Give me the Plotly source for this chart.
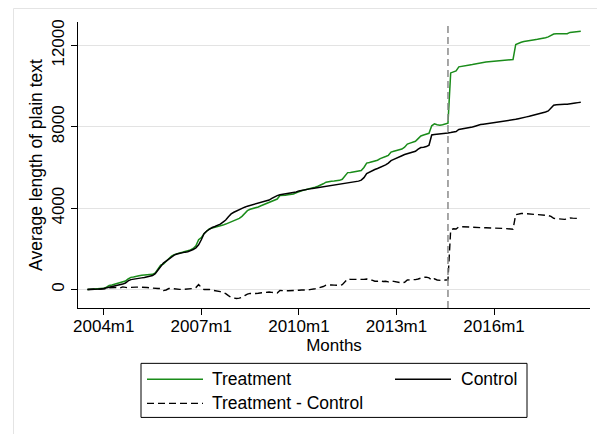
import plotly.graph_objects as go

# Months measured from 2004m1 (= 0); data run 2003m7 .. 2018m9
months = list(range(-6, 177))

treatment = [
    0, 5, 10, 20, 30, 40, 60,                                   # -6..0
    120, 200, 220, 260, 300, 330, 400, 420, 520, 600,           # 1..10
    620, 660, 680, 700, 710, 720, 730, 750, 820, 1000,          # 11..20
    1200, 1250, 1380, 1550, 1650, 1720, 1770, 1800, 1830, 1860, # 21..30
    1900, 1950, 2020, 2150, 2450, 2550, 2750, 2880, 2990, 3020, # 31..40
    3050, 3080, 3120, 3170, 3220, 3280, 3330, 3380, 3430, 3500, # 41..50
    3600, 3750, 3880, 3950, 3980, 4020, 4060, 4120, 4180, 4240, # 51..60
    4280, 4340, 4400, 4450, 4620, 4620, 4640, 4660, 4680, 4700, # 61..70
    4760, 4820, 4860, 4890, 4920, 4950, 4980, 5030, 5080, 5130, # 71..80
    5200, 5280, 5320, 5330, 5340, 5350, 5370, 5420, 5600, 5750, # 81..90
    5760, 5780, 5800, 5820, 5850, 6000, 6220, 6250, 6280, 6310, # 91..100
    6360, 6440, 6480, 6540, 6600, 6760, 6800, 6830, 6870, 6910, # 101..110
    7000, 7150, 7200, 7230, 7290, 7420, 7550, 7600, 7640, 7680, # 111..120
    8050, 8150, 8100, 8080, 8100, 8150, 8180, 10650, 10720, 10750, # 121..130
    10950, 10980, 11000, 11020, 11040, 11060, 11090, 11120, 11150, 11170, # 131..140
    11190, 11200, 11210, 11220, 11230, 11240, 11250, 11270, 11280, 11300, # 141..150
    11310, 12050, 12120, 12160, 12190, 12220, 12240, 12260, 12280, 12300, # 151..160
    12320, 12350, 12380, 12420, 12500, 12560, 12570, 12570, 12570, 12560, # 161..170
    12580, 12640, 12660, 12690, 12690, 12700,                   # 171..176
]

control = [
    0, 0, 5, 10, 20, 30, 50,                                    # -6..0
    80, 110, 140, 160, 200, 250, 270, 320, 430, 490,            # 1..10
    520, 540, 560, 575, 590, 620, 650, 690, 780, 950,           # 11..20
    1150, 1300, 1400, 1500, 1600, 1690, 1750, 1790, 1820, 1840, # 21..30
    1860, 1900, 1970, 2050, 2200, 2450, 2750, 2880, 2980, 3050, # 31..40
    3100, 3150, 3220, 3320, 3420, 3580, 3720, 3800, 3870, 3920, # 41..50
    3980, 4050, 4100, 4140, 4180, 4210, 4240, 4280, 4320, 4360, # 51..60
    4400, 4480, 4560, 4620, 4660, 4680, 4700, 4720, 4740, 4760, # 61..70
    4800, 4850, 4880, 4920, 4940, 4950, 4970, 4990, 5010, 5030, # 71..80
    5050, 5060, 5080, 5100, 5120, 5140, 5160, 5180, 5210, 5230, # 81..90
    5260, 5280, 5300, 5330, 5380, 5500, 5700, 5780, 5820, 5900, # 91..100
    5950, 6000, 6080, 6130, 6220, 6340, 6400, 6450, 6520, 6580, # 101..110
    6640, 6680, 6720, 6760, 6800, 6900, 6980, 7000, 7030, 7100, # 111..120
    7600, 7620, 7630, 7640, 7660, 7680, 7700, 7720, 7730, 7770, # 121..130
    7870, 7890, 7920, 7940, 7960, 7990, 8030, 8080, 8110, 8130, # 131..140
    8150, 8160, 8170, 8180, 8200, 8220, 8240, 8270, 8290, 8310, # 141..150
    8340, 8370, 8400, 8420, 8450, 8490, 8520, 8550, 8590, 8630, # 151..160
    8670, 8700, 8730, 8780, 8900, 9060, 9080, 9100, 9110, 9110, # 161..170
    9110, 9120, 9150, 9170, 9190, 9210,                         # 171..176
]

difference = [t - c for t, c in zip(treatment, control)]

tick_vals = [0, 36, 72, 108, 144]
tick_labels = ["2004m1", "2007m1", "2010m1", "2013m1", "2016m1"]
y_tick_vals = [0, 4000, 8000, 12000]
y_tick_labels = ["0", "4000", "8000", "12000"]
event_month = 127  # 2014m8

legend_labels = ["Treatment", "Control", "Treatment - Control"]

FONT = "Liberation Sans, Arial, Helvetica, sans-serif"
GREEN = "#1a8c1a"

fig = go.Figure()
fig.add_trace(go.Scatter(x=months, y=treatment, mode="lines", name=legend_labels[0],
                         line=dict(color=GREEN, width=1.5), showlegend=False))
fig.add_trace(go.Scatter(x=months, y=control, mode="lines", name=legend_labels[1],
                         line=dict(color="black", width=1.5), showlegend=False))
fig.add_trace(go.Scatter(x=months, y=difference, mode="lines", name=legend_labels[2],
                         line=dict(color="black", width=1.4, dash="7px,4px"), showlegend=False))

# page body has an 8px margin; figure sized to fit the window
OFF = 8
W, H = 605 - OFF, 434 - OFF
L, T = 78 - OFF, 22 - OFF
plot_right, plot_bottom = 590 - OFF, 307.7 - OFF
R, B = W - plot_right, H - plot_bottom
pw, ph = W - L - R, H - T - B


def px(xs):
    """screen x -> paper x"""
    return (xs - OFF - L) / pw


def py(ys):
    """screen y -> paper y"""
    return (H - B - (ys - OFF)) / ph


shapes = [
    # outer light frame
    dict(type="rect", xref="paper", yref="paper", x0=px(13.5), x1=px(640), y0=py(470), y1=py(8.5),
         line=dict(color="#e4e4e4", width=1), fillcolor="rgba(0,0,0,0)", layer="below"),
    # event line
    dict(type="line", xref="x", yref="paper", x0=event_month, x1=event_month, y0=0, y1=1,
         line=dict(color="#8a8a8a", width=1.5, dash="7px,4px")),
    # legend box
    dict(type="rect", xref="paper", yref="paper", x0=px(141), x1=px(527), y0=py(417), y1=py(363),
         line=dict(color="black", width=1), fillcolor="white"),
    dict(type="line", xref="paper", yref="paper", x0=px(147), x1=px(203), y0=py(379), y1=py(379),
         line=dict(color=GREEN, width=1.5)),
    dict(type="line", xref="paper", yref="paper", x0=px(395), x1=px(451), y0=py(379), y1=py(379),
         line=dict(color="black", width=1.5)),
    dict(type="line", xref="paper", yref="paper", x0=px(147), x1=px(203), y0=py(403), y1=py(403),
         line=dict(color="black", width=1.4, dash="7px,4px")),
]

annotations = [
    dict(text=legend_labels[0], xref="paper", yref="paper", x=px(210), y=py(379),
         xanchor="left", yanchor="middle", showarrow=False, font=dict(size=17.5, color="black", family=FONT)),
    dict(text=legend_labels[1], xref="paper", yref="paper", x=px(459), y=py(379),
         xanchor="left", yanchor="middle", showarrow=False, font=dict(size=17.5, color="black", family=FONT)),
    dict(text=legend_labels[2], xref="paper", yref="paper", x=px(210), y=py(403),
         xanchor="left", yanchor="middle", showarrow=False, font=dict(size=17.5, color="black", family=FONT)),
]

fig.update_layout(
    width=W, height=H,
    margin=dict(l=L, r=R, t=T, b=B, autoexpand=False),
    paper_bgcolor="white", plot_bgcolor="white",
    font=dict(family=FONT, size=17, color="black"),
    showlegend=False,
    shapes=shapes,
    annotations=annotations,
    xaxis=dict(
        range=[-9.5, 179.4],
        tickmode="array", tickvals=tick_vals, ticktext=tick_labels,
        showgrid=False, zeroline=False, automargin=False,
        showline=True, linecolor="black", linewidth=1.2,
        ticks="outside", ticklen=6, tickwidth=1.2, tickcolor="black",
        tickfont=dict(size=17), ticklabelstandoff=-4,
        title=dict(text="Months", font=dict(size=17), standoff=4),
    ),
    yaxis=dict(
        range=[-906, 13153],
        tickmode="array", tickvals=y_tick_vals, ticktext=y_tick_labels,
        tickangle=-90,
        showgrid=True, gridcolor="#e3e3e3", gridwidth=1.3,
        zeroline=False, automargin=False,
        showline=True, linecolor="black", linewidth=1.2,
        ticks="outside", ticklen=6, tickwidth=1.2, tickcolor="black",
        tickfont=dict(size=17),
        title=dict(text="Average length of plain text", font=dict(size=17.5), standoff=1),
    ),
)

fig.write_html("out.html")
